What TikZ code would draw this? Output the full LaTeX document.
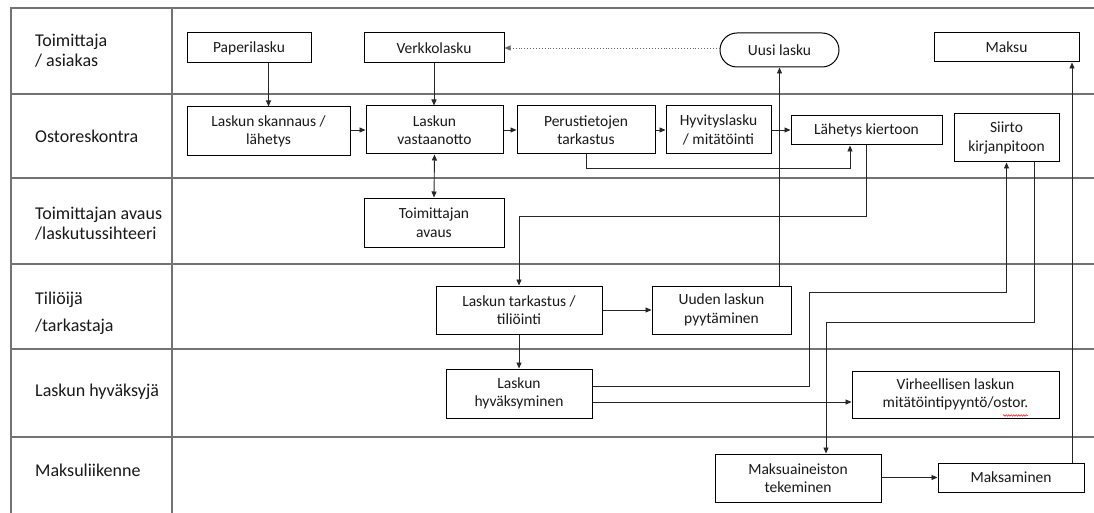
\documentclass[tikz,border=0pt]{standalone}
\usepackage{fontspec}
\setmainfont{Carlito}
\usetikzlibrary{arrows.meta,decorations.pathmorphing}
\begin{document}
\begin{tikzpicture}[x=1pt,y=-1pt,
  lane/.style={draw=black!55,line width=1.1pt},
  lbl/.style={anchor=west,inner sep=0pt,align=left,font=\fontsize{18}{20}\selectfont,text=black!90},
  bx/.style={draw=black,line width=1pt,align=center,inner sep=0pt,font=\fontsize{15.5}{18.5}\selectfont,text=black!90},
  arr/.style={draw=black!85,line width=0.9pt,-{Triangle[length=6pt,width=5pt]}},
  darr/.style={draw=black!85,line width=0.9pt,{Triangle[length=6pt,width=5pt]}-{Triangle[length=6pt,width=5pt]}},
  dotarr/.style={draw=black!60,line width=0.9pt,dotted,-{Triangle[length=6pt,width=5pt]}},
]
\useasboundingbox (0,0) rectangle (1094,513);
\fill[white] (0,0) rectangle (1094,513);
% lanes
\draw[lane] (11,513) -- (11,8) -- (1094,8);
\draw[lane] (172,8) -- (172,513);
\foreach \yy in {94,178,264,349,437} {\draw[lane] (11,\yy) -- (1094,\yy);}
% lane labels
\node[lbl] (l1) at (35,51) {Toimittaja\\/ asiakas};
\node[lbl] (l2) at (35,136) {Ostoreskontra};
\node[lbl] (l3) at (35,224) {Toimittajan avaus\\/laskutussihteeri};
\node[lbl] (l4) at (35,313) {Tiliöijä\\[7pt]/tarkastaja};
\node[lbl] (l5) at (35,392) {Laskun hyväksyjä};
\node[lbl] (l6) at (35,470) {Maksuliikenne};
% boxes
\node[bx,minimum width=124pt,minimum height=30pt] (pap) at (249,48) {Paperilasku};
\node[bx,minimum width=140pt,minimum height=30pt] (verk) at (434,48) {Verkkolasku};
\node[bx,minimum width=119pt,minimum height=34pt,rounded corners=17pt] (uusi) at (779.5,50) {Uusi lasku};
\node[bx,minimum width=145pt,minimum height=29pt] (maksu) at (1006.5,47.5) {Maksu};
\node[bx,minimum width=163pt,minimum height=49pt] (skan) at (268.5,131.5) {Laskun skannaus /\\lähetys};
\node[bx,minimum width=137pt,minimum height=48pt] (vast) at (434.5,130) {Laskun\\vastaanotto};
\node[bx,minimum width=138pt,minimum height=48pt] (per) at (586,130) {Perustietojen\\tarkastus};
\node[bx,minimum width=105pt,minimum height=48pt] (hyv) at (718.5,130) {Hyvityslasku\\/ mitätöinti};
\node[bx,minimum width=151pt,minimum height=29pt] (lah) at (866.5,130.5) {Lähetys kiertoon};
\node[bx,minimum width=105pt,minimum height=48pt] (sii) at (1006.5,138) {Siirto\\kirjanpitoon};
\node[bx,minimum width=140pt,minimum height=49pt] (tav) at (434,222.5) {Toimittajan\\avaus};
\node[bx,minimum width=166pt,minimum height=48pt] (tar) at (519,310) {Laskun tarkastus /\\tiliöinti};
\node[bx,minimum width=139pt,minimum height=48pt] (uud) at (721.5,310) {Uuden laskun\\pyytäminen};
\node[bx,minimum width=146pt,minimum height=49pt] (hyk) at (519,393.5) {Laskun\\hyväksyminen};
\node[bx,minimum width=207pt,minimum height=47pt] (vir) at (955.5,394.5) {Virheellisen laskun\\mitätöintipyyntö/ostor.};
\node[bx,minimum width=166pt,minimum height=48pt] (mai) at (798,478) {Maksuaineiston\\tekeminen};
\node[bx,minimum width=146pt,minimum height=29pt] (mks) at (1011,477.5) {Maksaminen};
% spell-check underline
\draw[red,line width=0.5pt,decorate,decoration={snake,amplitude=0.8pt,segment length=2.5pt}] (1003,415.5) -- (1028,415.5);
% helper coordinates
\coordinate (c8) at (850,168);
\coordinate (c10) at (519,216);
\coordinate (c14a) at (809,386);
\coordinate (c14b) at (809,292);
\coordinate (c15) at (0,402);
\coordinate (c16) at (826,322);
\coordinate (c18) at (1072,0);
% connectors
\draw[arr] (skan.north |- pap.south) -- (skan.north);
\draw[arr] (verk.south) -- (verk.south |- vast.north);
\draw[arr] (skan.east |- vast.west) -- (vast.west);
\draw[darr] (vast.south) -- (tav.north);
\draw[arr] (vast.east) -- (per.west);
\draw[arr] (per.east) -- (hyv.west);
\draw[arr] (hyv.east) -- (lah.west |- hyv.east);
\draw[arr] (per.south) |- (c8) -- (c8 |- lah.south);
\draw[dotarr] (uusi.west |- verk.east) -- (verk.east);
\draw[arr] (lah.south) |- (c10) -- (tar.north);
\draw[arr] (tar.east) -- (uud.west);
\draw[arr] (uusi.south |- uud.north) -- (uusi.south);
\draw[arr] (tar.south) -- (hyk.north);
\draw[arr] (hyk.east |- c14a) -| (c14b) -| (sii.south);
\draw[arr] (hyk.east |- c15) -- (vir.west |- c15);
\draw[arr] ([xshift=27.5pt]sii.south) |- (c16) -- (c16 |- mai.north);
\draw[arr] (mai.east |- mks.west) -- (mks.west);
\draw[arr] (mks.north -| c18) -- (maksu.south -| c18);
\end{tikzpicture}
\end{document}
